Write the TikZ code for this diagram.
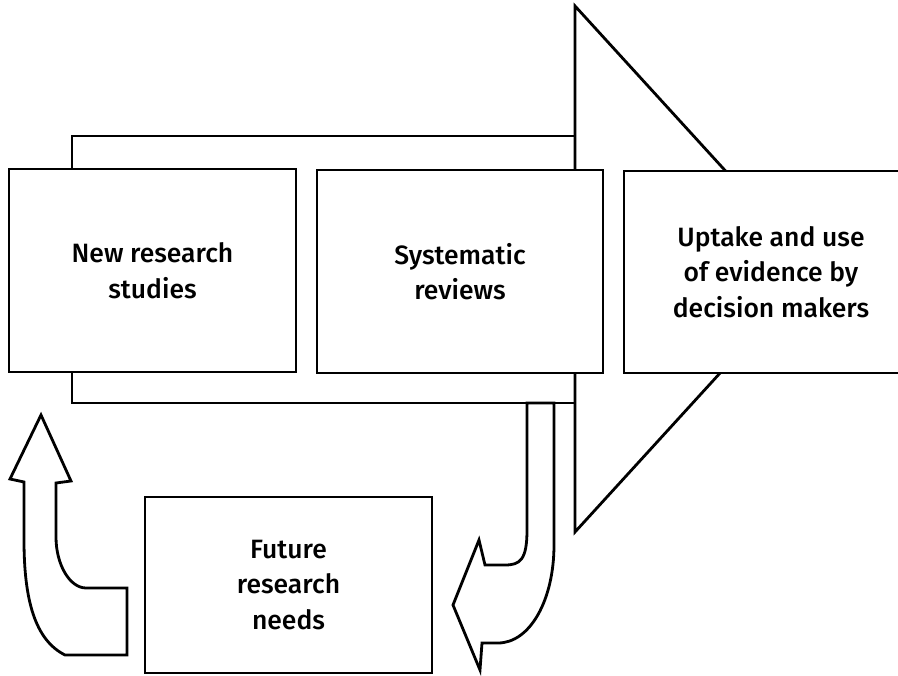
\documentclass[tikz,border=0pt]{standalone}
\usepackage{fontspec}
\setmainfont{Fira Sans}[UprightFont=* Medium]
\begin{document}
\begin{tikzpicture}[x=1pt, y=-1pt, line width=2.8pt, line join=miter,
  stage/.style={draw, fill=white, align=center, inner sep=0pt,
    font=\fontsize{26.5}{35.5}\selectfont},
  outline/.style={draw, fill=white}]
\useasboundingbox (0,0) rectangle (898,676);
\clip (0,0) rectangle (898,676);

% broad arrow: shaft and head
\draw[outline] (72,136) rectangle (575,403);
\draw[outline] (575,6) -- (815,269) -- (575,532) -- cycle;

% stages along the arrow
\node[stage, minimum width=287pt, minimum height=203pt] (new) at (152.5,270.5) {New research\\studies};
\node[stage, minimum width=286pt, minimum height=203pt] (rev) at (460,271.5) {Systematic\\reviews};
\node[stage, minimum width=294pt, minimum height=202pt] (use) at (771,272) {Uptake and use\\of evidence by\\decision makers};

% feedback box
\node[stage, minimum width=287pt, minimum height=176pt] (fut) at (288.5,585) {Future\\research\\needs};

% curved arrow leaving the shaft, pointing left
\draw[outline] (527,403) -- (527,530)
  .. controls (527,560) and (520,565) .. (505,565)
  -- (485,565) -- (479,540) -- (453,605) -- (480,670) -- (482,643) -- (498,643)
  .. controls (530,643) and (554,600) .. (554,545)
  -- (554,403) -- cycle;

% curved arrow rising back to new studies
\draw[outline] (41,415) -- (71,481) -- (56,483) -- (56,537)
  .. controls (56,565) and (70,588) .. (86,588)
  -- (127,588) -- (127,655) -- (65,655)
  .. controls (35,640) and (24,600) .. (24,540)
  -- (24,482) -- (10,479) -- cycle;
\end{tikzpicture}
\end{document}
